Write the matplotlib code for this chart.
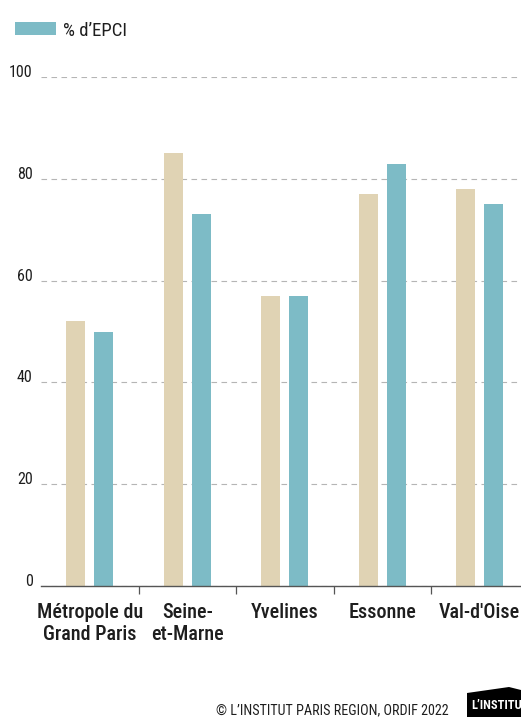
import matplotlib
matplotlib.use("Agg")
import matplotlib.pyplot as plt
from matplotlib.patches import Polygon
import numpy as np

plt.rcParams['font.family'] = ['Roboto Condensed', 'DejaVu Sans']

departements = ["Métropole du\nGrand Paris", "Seine-\net-Marne", "Yvelines", "Essonne", "Val-d'Oise"]
pct_communes = [52, 85, 57, 77, 78]
pct_epci = [50, 73, 57, 83, 75]
yticks = [0, 20, 40, 60, 80, 100]

TAN = '#e0d3b4'
TEAL = '#7dbbc6'
TXT = '#1e1e1e'

W, H = 521, 717
fig = plt.figure(figsize=(W / 100, H / 100), dpi=100)

# axes en pixels : gauche 41, bas 586, haut 77, largeur 5 x 97.5 (coupé à droite)
ax = fig.add_axes([41 / W, (H - 586) / H, 487.5 / W, (586 - 77) / H])

x = np.arange(len(departements))
bw = 0.195
ax.bar(x - 0.144, pct_communes, bw, color=TAN, zorder=2)
ax.bar(x + 0.144, pct_epci, bw, color=TEAL, zorder=2)

ax.set_xlim(-0.5, len(departements) - 0.5)
ax.set_ylim(0, 100)

for s in ['top', 'right', 'left']:
    ax.spines[s].set_visible(False)
ax.spines['bottom'].set_color('#555555')
ax.spines['bottom'].set_linewidth(1.0)

ax.set_yticks(yticks)
ax.set_yticklabels([str(v) for v in yticks])
ax.tick_params(axis='y', length=0, pad=6, labelsize=11.5, labelcolor=TXT)
for lab in ax.get_yticklabels():
    lab.set_verticalalignment('baseline')
ax.yaxis.grid(True, linestyle=(0, (5, 4)), color='#b5b5b5', linewidth=0.8, zorder=0)

# étiquettes centrées, traits de séparation entre groupes
ax.set_xticks(x)
ax.set_xticklabels(departements, fontsize=14.5, fontweight='medium', color=TXT, linespacing=1.2)
ax.tick_params(axis='x', which='major', length=0, pad=12)
ax.set_xticks(x[:-1] + 0.5, minor=True)
ax.tick_params(axis='x', which='minor', length=6, color='#555555', width=0.9)

# légende (seule la série EPCI est visible en haut)
fig.patches.append(plt.Rectangle((15 / W, (H - 35) / H), 41 / W, 13 / H, facecolor=TEAL,
                                 edgecolor='none', transform=fig.transFigure))
fig.text(63 / W, (H - 36) / H, "% d\u2019EPCI", ha='left', va='baseline', fontsize=13.5, color=TXT)

fig.text(449 / W, (H - 714) / H, "© L\u2019INSTITUT PARIS REGION, ORDIF 2022",
         ha='right', va='baseline', fontsize=10.2, color=TXT)

# logo (coupé au bord droit)
pts = [(467, 693), (509, 687), (521, 690), (521, 717), (467, 717)]
fig.add_artist(Polygon([(px / W, (H - py) / H) for px, py in pts], closed=True,
                       facecolor='black', edgecolor='none', transform=fig.transFigure))
fig.text(471 / W, (H - 709) / H, "L\u2019INSTITUT", ha='left', va='baseline',
         fontsize=9, fontweight='bold', color='white')

fig.savefig("out.png", dpi=100)
